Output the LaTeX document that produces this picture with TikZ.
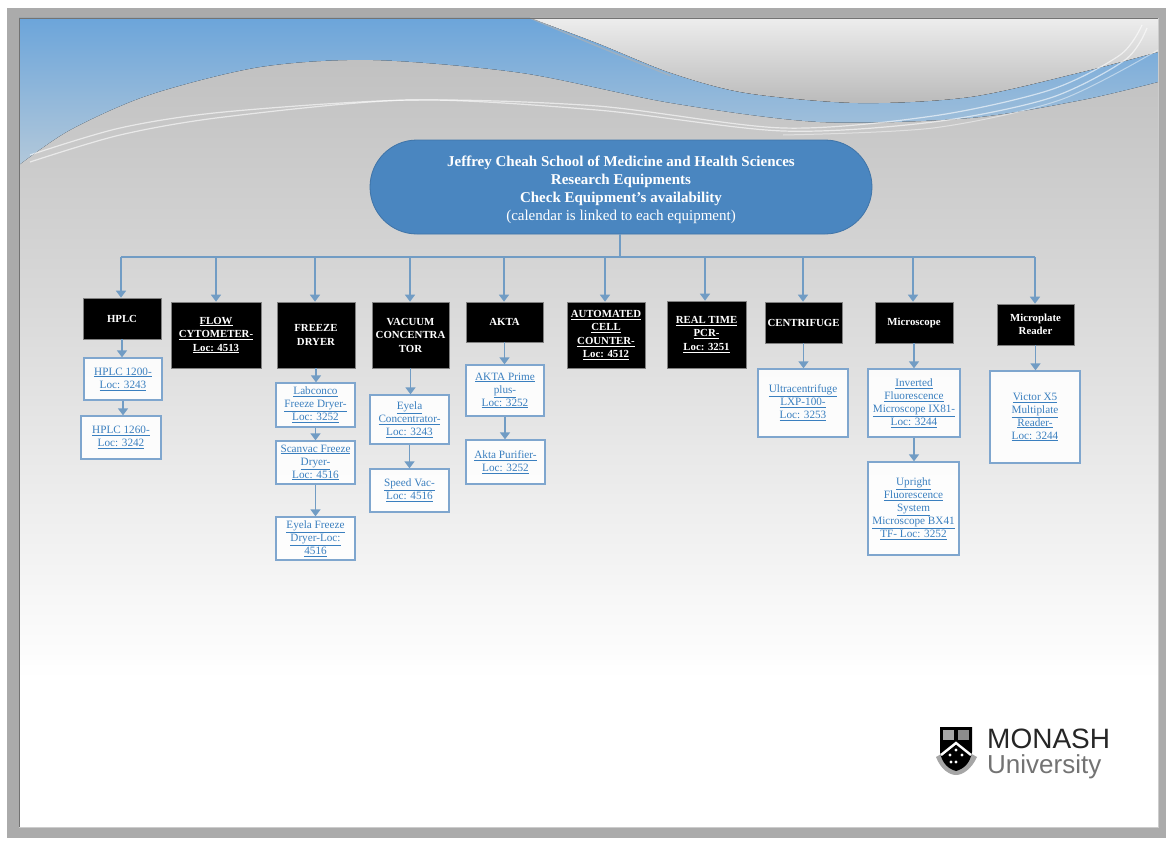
\documentclass[tikz,border=0pt]{standalone}
\usepackage{fontspec}
\setmainfont{Liberation Serif}
\newfontfamily\logofont{Liberation Sans}
\usetikzlibrary{arrows.meta,shapes.misc}
\definecolor{linkblue}{HTML}{3A7FBF}
\definecolor{conblue}{HTML}{5B9BD5}
\definecolor{rootblue}{HTML}{4A86C0}
\definecolor{rootedge}{HTML}{3F74A8}
\definecolor{boxedge}{HTML}{7FA6CE}
\tikzset{
  headbox/.style={fill=black,draw=black!50,line width=.6pt,text=white,align=center,inner sep=0pt,
    font=\fontsize{10.8}{13.5}\selectfont\bfseries},
  linkbox/.style={fill=white,fill opacity=.9,text opacity=1,draw=boxedge,line width=1.3pt,text=linkblue,align=center,inner sep=0pt,
    font=\fontsize{11.2}{13}\selectfont},
  conn/.style={draw=conblue!85!black!80,line width=1.5pt},
  arr/.style={conn,-{Triangle[width=10pt,length=7pt]}},
  wave/.style={draw=white,opacity=.6,line width=1.2pt}
}
% \bx{name}{x1}{y1}{x2}{y2}{style}{text}
\newcommand{\bx}[7]{%
  \pgfmathsetmacro{\bxw}{#4-#2}\pgfmathsetmacro{\bxh}{#5-#3}%
  \pgfmathsetmacro{\bxx}{(#2+#4)/2}\pgfmathsetmacro{\bxy}{(#3+#5)/2}%
  \node[#6,minimum width=\bxw pt,minimum height=\bxh pt] (#1) at (\bxx,\bxy) {#7};}
\newcommand{\ul}[1]{\underline{#1}}
\begin{document}
\begin{tikzpicture}[x=1pt,y=-1pt]
\useasboundingbox (0,0) rectangle (1169,843);
% frame
\fill[black!33] (0,0) rectangle (1169,843);
\fill[white] (0,0) rectangle (1169,8);
\fill[white] (0,0) rectangle (7,843);
\fill[white] (1166,0) rectangle (1169,843);
\fill[white] (0,838) rectangle (1169,843);
% slide background
\begin{scope}
\clip (19,18) rectangle (1158,827);
\fill[white] (19,18) rectangle (1158,827);
\shade[top color=black!26,bottom color=black!17] (19,18) rectangle (1158,250);
\shade[top color=black!17,bottom color=black!7] (19,250) rectangle (1158,500);
\shade[top color=black!7,bottom color=white] (19,500) rectangle (1158,680);
% blue band
\fill[top color={rgb,255:red,108;green,165;blue,218},bottom color={rgb,255:red,178;green,200;blue,218}]
  (19,18) -- (530,18)
  -- plot[smooth] coordinates {(530,18) (597,43) (671,73) (746,93) (858,103) (970,97) (1082,72) (1158,52)}
  -- (1158,82)
  -- plot[smooth] coordinates {(1158,82) (1082,100) (970,118) (820,122) (671,103) (522,73) (373,60) (260,67) (149,95) (70,130) (19,165)}
  -- cycle;
% white swoosh
\fill[top color=black!7,bottom color=black!27]
  (530,18) -- plot[smooth] coordinates {(530,18) (597,43) (671,73) (746,93) (858,103) (970,97) (1082,72) (1158,52)}
  -- (1158,18) -- cycle;
\draw[black!30,opacity=.6,line width=1.5pt] plot[smooth] coordinates {(530,18) (597,46) (671,76)};
% white lines
\draw[wave] plot[smooth] coordinates {(30,162) (120,135) (224,117) (410,100) (597,110) (783,131) (933,122) (1050,98) (1125,60) (1147,28)};
\draw[wave] plot[smooth] coordinates {(30,155) (120,128) (224,112) (410,100) (597,106) (783,128) (933,116) (1050,90) (1120,55) (1142,25)};
\draw[draw=white,opacity=.45,line width=1pt] plot[smooth] coordinates {(783,135) (933,128) (1060,100) (1158,50)};
\end{scope}
\draw[black!55,line width=.8pt] (19,827) -- (19,18) -- (1158,18);
\draw[black!20,line width=.8pt] (19,827) -- (1158,827) -- (1158,18);
% root
\node[rounded rectangle,rounded rectangle arc length=180,fill=rootblue,draw=rootedge,line width=.8pt,
  minimum width=502pt,minimum height=94pt,inner sep=0pt,text=white,align=center,
  font=\fontsize{15}{18.2}\selectfont] (root) at (621,187)
  {\rule{0pt}{16pt}\textbf{Jeffrey Cheah School of Medicine and Health Sciences}\\
   \textbf{Research Equipments}\\
   \textbf{Check Equipment's availability}\\
   (calendar is linked to each equipment)};
% heads
\bx{hplc}{83}{298}{161}{339}{headbox}{HPLC}
\bx{flow}{171}{302}{261}{368}{headbox}{\ul{FLOW}\\\ul{CYTOMETER-}\\\ul{Loc: 4513}}
\bx{freeze}{277}{302}{355}{368}{headbox}{FREEZE\\DRYER}
\bx{vac}{372}{302}{449}{368}{headbox}{VACUUM\\CONCENTRA\\TOR}
\bx{akta}{466}{302}{543}{342}{headbox}{AKTA}
\bx{cell}{567}{302}{645}{368}{headbox}{\ul{AUTOMATED}\\\ul{CELL}\\\ul{COUNTER-}\\\ul{Loc: 4512}}
\bx{pcr}{667}{301}{746}{368}{headbox}{\ul{REAL TIME}\\\ul{PCR-}\\\ul{Loc: 3251}}
\bx{cent}{765}{302}{842}{343}{headbox}{CENTRIFUGE}
\bx{micro}{875}{302}{953}{343}{headbox}{Microscope}
\bx{plate}{997}{304}{1074}{345}{headbox}{Microplate\\Reader}
% links
\bx{hplca}{84}{358}{162}{400}{linkbox}{\ul{HPLC 1200-}\\\ul{Loc: 3243}}
\bx{hplcb}{81}{416}{161}{459}{linkbox}{\ul{HPLC 1260-}\\\ul{Loc: 3242}}
\bx{fda}{276}{383}{355}{427}{linkbox}{\ul{Labconco}\\\ul{Freeze Dryer-}\\\ul{Loc: 3252}}
\bx{fdb}{276}{441}{355}{484}{linkbox}{\ul{Scanvac Freeze}\\\ul{Dryer-}\\\ul{Loc: 4516}}
\bx{fdc}{276}{517}{355}{560}{linkbox}{\ul{Eyela Freeze}\\\ul{Dryer-Loc:}\\\ul{4516}}
\bx{vca}{370}{395}{449}{444}{linkbox}{\ul{Eyela}\\\ul{Concentrator-}\\\ul{Loc: 3243}}
\bx{vcb}{370}{469}{449}{512}{linkbox}{\ul{Speed Vac-}\\\ul{Loc: 4516}}
\bx{aka}{466}{365}{544}{416}{linkbox}{\ul{AKTA Prime}\\\ul{plus-}\\\ul{Loc: 3252}}
\bx{akb}{466}{440}{545}{484}{linkbox}{\ul{Akta Purifier-}\\\ul{Loc: 3252}}
\bx{ultra}{758}{369}{848}{437}{linkbox}{\ul{Ultracentrifuge}\\\ul{LXP-100-}\\\ul{Loc: 3253}}
\bx{inv}{868}{369}{960}{437}{linkbox}{\ul{Inverted}\\\ul{Fluorescence}\\\ul{Microscope IX81-}\\\ul{Loc: 3244}}
\bx{upr}{868}{462}{959}{555}{linkbox}{\ul{Upright}\\\ul{Fluorescence}\\\ul{System}\\\ul{Microscope BX41}\\\ul{TF- Loc: 3252}}
\bx{vic}{990}{371}{1080}{463}{linkbox}{\ul{Victor X5}\\\ul{Multiplate}\\\ul{Reader-}\\\ul{Loc: 3244}}
% bus
\coordinate (stem) at (620,257);
\coordinate (busL) at (121,257);
\coordinate (busR) at (1035,257);
\draw[conn] (root.south -| stem) -- (stem);
\draw[conn] (busL) -- (busR);
\foreach \x/\t in {121/hplc,216/flow,315/freeze,410/vac,504/akta,605/cell,705/pcr,803/cent,913/micro,1035/plate}{
  \coordinate (drop\t) at (\x,257);
  \draw[arr] (drop\t) -- (drop\t |- \t.north);
}
% chains
\foreach \a/\b in {hplc/hplca,hplca/hplcb,freeze/fda,fda/fdb,fdb/fdc,vac/vca,vca/vcb,akta/aka,aka/akb,cent/ultra,micro/inv,inv/upr,plate/vic}{
  \draw[arr] (\a.south) -- (\a.south |- \b.north);
}
% logo
\node[inner sep=0pt,anchor=base west,text=black!85,font=\logofont\fontsize{28}{28}\selectfont] (monash) at (987,748) {MONASH};
\node[inner sep=0pt,anchor=base west,text=black!55,font=\logofont\fontsize{26}{26}\selectfont] (uni) at (987,773) {University};
\fill[black!35] (936,757) .. controls (941,770) and (950,775) .. (956,775) .. controls (962,775) and (971,770) .. (977,757) -- (970,753) -- (943,753) -- cycle;
\fill[black] (940,727) -- (972,727) -- (972,752) .. controls (970,764) and (963,769) .. (956,771) .. controls (949,769) and (942,764) .. (940,752) -- cycle;
\fill[black!35] (943,730) rectangle (954,740);
\fill[black!45] (958,730) rectangle (969,740);
\draw[white,line width=2.4pt] (941,755) -- (956,743) -- (971,755);
\foreach \p in {(950,755),(956,750),(962,755),(956,762),(951,762)}{\fill[white] \p circle (1.6pt);}
\end{tikzpicture}
\end{document}
